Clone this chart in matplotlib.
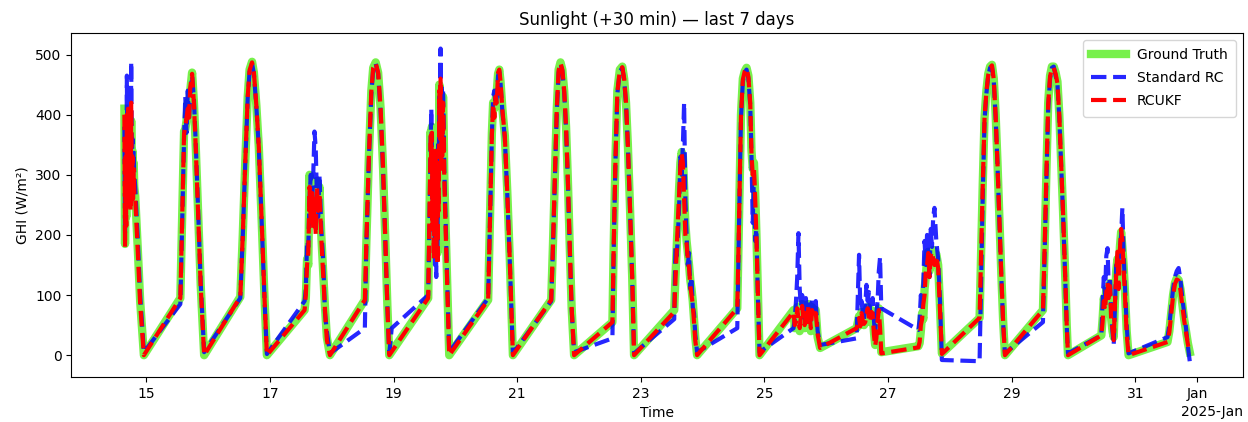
import numpy as np
import pandas as pd
import matplotlib
matplotlib.use('Agg')
import matplotlib.pyplot as plt
import matplotlib.dates as mdates

# tempo em dias de dezembro de 2024 (parte fracionaria = hora do dia)
days = [
    14.645, 14.655, 14.665, 14.675, 14.685, 14.695, 14.705, 14.715, 14.725, 14.735, 14.745, 14.755, 14.765, 14.775, 14.785, 14.795, 14.805, 14.82, 14.86, 14.90, 14.96,
    15.55, 15.58, 15.61, 15.63, 15.65, 15.67, 15.69, 15.71, 15.74, 15.77, 15.80, 15.84, 15.88, 15.935,
    16.52, 16.56, 16.60, 16.64, 16.67, 16.71, 16.74, 16.78, 16.82, 16.87, 16.91, 16.95,
    17.56, 17.58, 17.60, 17.62, 17.64, 17.66, 17.68, 17.70, 17.72, 17.74, 17.76, 17.78, 17.80, 17.83, 17.86, 17.89, 17.92, 17.97,
    18.535, 18.56, 18.60, 18.64, 18.67, 18.71, 18.75, 18.79, 18.83, 18.87, 18.90, 18.93, 18.97,
    19.56, 19.58, 19.60, 19.61, 19.62, 19.63, 19.64, 19.65, 19.66, 19.67, 19.68, 19.69, 19.70, 19.71, 19.72, 19.73, 19.74, 19.75, 19.76, 19.77, 19.78, 19.79, 19.80, 19.81, 19.82, 19.84, 19.87, 19.90,
    20.53, 20.56, 20.59, 20.61, 20.63, 20.65, 20.67, 20.69, 20.71, 20.73, 20.76, 20.80, 20.84, 20.88, 20.93,
    21.55, 21.58, 21.61, 21.64, 21.67, 21.70, 21.73, 21.76, 21.79, 21.82, 21.85, 21.88, 21.92,
    22.54, 22.56, 22.59, 22.62, 22.66, 22.70, 22.73, 22.76, 22.79, 22.82, 22.86, 22.89,
    23.54, 23.56, 23.58, 23.60, 23.62, 23.64, 23.66, 23.68, 23.70, 23.72, 23.74, 23.76, 23.78, 23.80, 23.82, 23.84, 23.86, 23.88, 23.91,
    24.56, 24.58, 24.60, 24.62, 24.65, 24.68, 24.71, 24.74, 24.77, 24.79, 24.81, 24.83, 24.85, 24.87, 24.89, 24.92,
    25.47, 25.49, 25.51, 25.53, 25.55, 25.57, 25.59, 25.61, 25.63, 25.65, 25.67, 25.69, 25.71, 25.73, 25.75, 25.77, 25.80, 25.83, 25.86, 25.90,
    26.49, 26.51, 26.53, 26.55, 26.57, 26.59, 26.61, 26.63, 26.65, 26.67, 26.69, 26.71, 26.73, 26.75, 26.77, 26.79, 26.81, 26.83, 26.85, 26.87, 26.89,
    27.49, 27.51, 27.53, 27.55, 27.57, 27.59, 27.61, 27.63, 27.65, 27.67, 27.69, 27.71, 27.73, 27.75, 27.78, 27.81, 27.84, 27.87,
    28.48, 28.50, 28.53, 28.56, 28.59, 28.62, 28.65, 28.68, 28.71, 28.74, 28.77, 28.80, 28.83, 28.86, 28.89,
    29.505, 29.53, 29.56, 29.59, 29.62, 29.65, 29.68, 29.71, 29.74, 29.77, 29.80, 29.83, 29.86, 29.89, 29.91,
    30.45, 30.47, 30.49, 30.51, 30.53, 30.55, 30.57, 30.59, 30.61, 30.63, 30.65, 30.67, 30.69, 30.71, 30.73, 30.75, 30.77, 30.79, 30.81, 30.83, 30.86, 30.89,
    31.52, 31.55, 31.58, 31.61, 31.64, 31.67, 31.70, 31.73, 31.76, 31.79, 31.82, 31.85, 31.88,
]

# GHI medido (W/m2)
ground_truth = [
    410, 185, 300, 230, 380, 260, 400, 330, 280, 360, 250, 390, 300, 340, 270, 320, 280, 265, 180, 90, 0,
    95, 230, 372, 375, 390, 420, 400, 440, 470, 420, 345, 230, 115, 0,
    97, 200, 320, 430, 475, 488, 470, 415, 345, 212, 100, 0,
    75, 95, 160, 150, 300, 240, 285, 230, 270, 220, 290, 250, 280, 200, 140, 80, 30, 0,
    92, 190, 330, 440, 478, 487, 470, 410, 310, 180, 80, 0, 6,
    95, 230, 372, 300, 380, 220, 330, 180, 290, 240, 350, 200, 300, 170, 330, 260, 450, 380, 420, 300, 400, 340, 430, 380, 300, 220, 110, 0,
    92, 230, 370, 420, 410, 425, 440, 468, 475, 455, 410, 365, 270, 160, 0,
    92, 190, 300, 410, 475, 487, 475, 440, 380, 290, 180, 80, 0,
    55, 180, 330, 440, 475, 480, 460, 420, 350, 260, 130, 0,
    75, 130, 180, 230, 280, 320, 338, 330, 280, 220, 190, 170, 150, 125, 110, 90, 60, 30, 0,
    78, 180, 290, 400, 460, 472, 478, 465, 420, 340, 310, 320, 270, 200, 120, 0,
    75, 45, 60, 80, 55, 40, 70, 85, 60, 45, 75, 50, 85, 70, 40, 80, 60, 75, 30, 12,
    45, 55, 65, 50, 72, 60, 50, 55, 70, 80, 65, 55, 75, 72, 40, 17, 30, 60, 78, 50, 5,
    15, 20, 40, 70, 60, 110, 130, 160, 172, 140, 165, 150, 175, 160, 168, 150, 80, 3,
    62, 150, 280, 395, 440, 468, 480, 483, 460, 400, 320, 230, 140, 60, 0,
    75, 170, 300, 420, 465, 480, 480, 470, 455, 400, 320, 240, 150, 50, 0,
    33, 60, 95, 80, 110, 70, 100, 120, 60, 40, 30, 90, 140, 160, 120, 180, 205, 180, 150, 110, 40, 0,
    22, 40, 70, 100, 120, 128, 125, 110, 85, 60, 40, 20, 5,
]

# previsao do reservoir computing padrao
standard_rc = [
    380, 200, 350, 250, 465, 300, 420, 350, 300, 400, 270, 488, 320, 360, 290, 340, 300, 280, 195, 100, 5,
    85, 220, 360, 430, 370, 440, 390, 435, 465, 425, 350, 235, 120, 5,
    95, 198, 318, 428, 472, 485, 468, 413, 343, 210, 98, 2,
    90, 110, 190, 180, 260, 300, 250, 300, 372, 345, 260, 230, 300, 210, 160, 70, 40, 3,
    45, 185, 325, 435, 475, 485, 468, 405, 305, 175, 78, 3, 45,
    100, 220, 360, 410, 330, 260, 300, 200, 260, 150, 300, 130, 280, 180, 350, 300, 430, 400, 510, 380, 450, 350, 440, 390, 310, 230, 115, 5,
    95, 225, 365, 430, 440, 415, 430, 465, 472, 452, 405, 360, 265, 155, 3,
    90, 185, 295, 405, 470, 484, 473, 437, 377, 287, 177, 78, 5,
    28, 170, 325, 435, 472, 478, 458, 418, 348, 258, 128, 3,
    60, 180, 165, 200, 250, 330, 300, 350, 420, 260, 200, 150, 170, 110, 130, 80, 70, 35, 5,
    45, 170, 285, 395, 455, 470, 475, 460, 415, 330, 220, 300, 190, 210, 110, 5,
    45, 60, 90, 130, 203, 110, 80, 100, 75, 60, 95, 70, 90, 85, 55, 95, 70, 90, 40, 17,
    28, 100, 167, 80, 90, 70, 60, 80, 117, 90, 105, 70, 85, 95, 60, 30, 70, 90, 140, 163, 78,
    42, 60, 100, 80, 120, 190, 150, 200, 170, 130, 210, 180, 230, 245, 190, 160, 90, -8,
    -10, 100, 260, 390, 435, 465, 478, 480, 455, 395, 315, 225, 135, 55, 3,
    55, 160, 290, 410, 460, 478, 480, 465, 450, 395, 315, 235, 145, 48, 3,
    33, 90, 130, 100, 165, 178, 110, 130, 70, 40, 17, 80, 150, 140, 160, 170, 200, 245, 170, 120, 50, 3,
    30, 50, 80, 110, 130, 140, 145, 125, 95, 70, 45, 15, -10,
]

# previsao do RC com filtro de kalman unscented
rcukf = [
    400, 180, 330, 215, 400, 250, 410, 320, 270, 370, 240, 420, 290, 330, 260, 310, 270, 260, 175, 85, 0,
    95, 228, 368, 380, 395, 410, 395, 445, 468, 418, 343, 228, 113, 0,
    97, 200, 320, 430, 474, 487, 470, 415, 345, 212, 100, 0,
    75, 100, 150, 170, 280, 220, 270, 210, 260, 200, 280, 240, 270, 195, 135, 75, 25, 0,
    92, 190, 330, 440, 478, 486, 470, 410, 310, 180, 80, 0, 6,
    95, 225, 365, 320, 370, 210, 320, 160, 280, 220, 340, 170, 290, 150, 320, 240, 440, 360, 460, 310, 410, 330, 420, 370, 295, 215, 105, 0,
    92, 230, 368, 418, 395, 430, 420, 470, 475, 455, 408, 363, 268, 158, 0,
    92, 190, 300, 410, 474, 486, 475, 440, 380, 290, 180, 80, 0,
    55, 178, 328, 438, 474, 479, 460, 420, 350, 260, 130, 0,
    72, 125, 175, 225, 270, 315, 335, 320, 260, 200, 185, 160, 145, 115, 100, 85, 55, 25, 0,
    78, 178, 288, 398, 458, 472, 477, 463, 418, 335, 300, 310, 260, 195, 115, 0,
    72, 50, 55, 78, 60, 45, 65, 82, 58, 50, 70, 55, 80, 68, 45, 75, 62, 70, 35, 12,
    45, 52, 62, 48, 70, 58, 52, 55, 68, 78, 62, 55, 72, 70, 35, 15, 28, 58, 75, 45, 3,
    13, 22, 50, 60, 85, 100, 140, 150, 170, 130, 165, 172, 160, 150, 165, 145, 75, 2,
    62, 148, 278, 393, 438, 466, 478, 482, 458, 398, 318, 228, 138, 58, 0,
    75, 170, 298, 418, 463, 478, 478, 468, 452, 398, 318, 238, 148, 50, 0,
    33, 55, 90, 75, 105, 120, 95, 115, 55, 45, 25, 85, 135, 172, 110, 175, 210, 190, 145, 105, 35, 0,
    22, 38, 68, 98, 118, 126, 124, 108, 82, 58, 38, 18, 3,
]

# converte dias fracionarios em datas
times = pd.Timestamp('2024-11-30') + pd.to_timedelta(np.array(days), unit='D')

fig, ax = plt.subplots(figsize=(12.48, 4.22), dpi=100)

ax.plot(times, ground_truth, color='#78f04c', linewidth=6, label='Ground Truth')
ax.plot(times, standard_rc, '--', color='blue', alpha=0.85, linewidth=3, label='Standard RC')
ax.plot(times, rcukf, '--', color='red', linewidth=3, label='RCUKF')

locator = mdates.AutoDateLocator()
ax.xaxis.set_major_locator(locator)
ax.xaxis.set_major_formatter(mdates.ConciseDateFormatter(locator))

ax.set_title('Sunlight (+30 min) — last 7 days')
ax.set_xlabel('Time')
ax.set_ylabel('GHI (W/m²)')
ax.legend(loc='upper right', handlelength=2.5, labelspacing=0.65, borderpad=0.6)

fig.subplots_adjust(left=0.057, right=0.996, top=0.922, bottom=0.107)
fig.savefig('out.png', dpi=100)
